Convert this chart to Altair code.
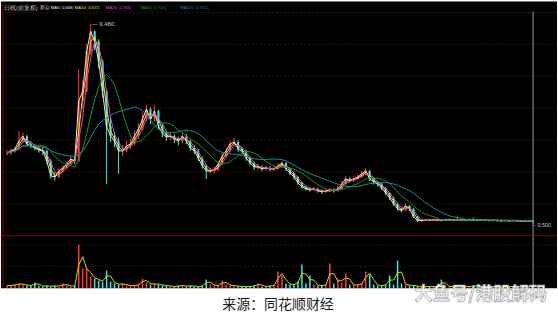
import altair as alt
import pandas as pd

# ---------------- data ----------------
closes = [
    3.70, 3.80, 3.88, 4.24, 4.46, 4.11, 4.02, 3.93, 3.84, 3.80,
    3.35, 2.68, 2.63, 2.90, 3.04, 3.21, 3.44, 3.35, 6.03, 6.47,
    8.26, 9.15, 8.71, 7.81, 6.47, 4.91, 4.46, 4.24, 3.80, 3.80,
    4.02, 4.11, 4.46, 4.78, 5.22, 5.67, 5.22, 5.58, 4.91, 4.60,
    4.42, 4.46, 4.33, 4.24, 4.46, 4.24, 3.93, 3.80, 3.48, 3.13,
    2.90, 2.90, 2.95, 3.21, 3.57, 3.80, 4.11, 4.20, 3.88, 3.80,
    3.48, 3.26, 3.08, 3.08, 2.99, 3.04, 2.99, 2.99, 3.13, 3.26,
    2.99, 2.81, 2.63, 2.37, 2.19, 2.10, 2.05, 2.10, 2.01, 1.96,
    2.01, 2.05, 2.01, 2.10, 2.32, 2.55, 2.46, 2.55, 2.63, 2.77,
    2.90, 2.55, 2.41, 2.32, 2.14, 1.92, 1.70, 1.43, 1.21, 1.12,
    1.34, 1.21, 0.85, 0.67, 0.68, 0.70, 0.69, 0.71, 0.70, 0.69,
    0.70, 0.72, 0.70, 0.71, 0.69, 0.70, 0.72, 0.70, 0.69, 0.70,
    0.69, 0.68, 0.69, 0.68, 0.67, 0.68, 0.67, 0.68, 0.67, 0.66,
    0.67, 0.67, 0.66,
]
highs = [
    3.86, 3.92, 4.00, 4.69, 4.62, 4.52, 4.22, 4.12, 4.02, 3.98,
    3.86, 3.42, 2.85, 3.02, 3.16, 3.34, 3.56, 3.55, 7.45, 6.95,
    8.60, 9.48, 9.20, 8.80, 7.90, 6.55, 5.30, 4.65, 4.40, 4.05,
    4.25, 4.35, 4.70, 5.05, 5.50, 5.85, 5.75, 5.85, 5.65, 5.00,
    4.70, 4.65, 4.55, 4.45, 4.62, 4.55, 4.30, 4.05, 3.88, 3.55,
    3.20, 3.05, 3.10, 3.35, 3.70, 3.95, 4.25, 4.38, 4.28, 3.98,
    3.85, 3.55, 3.30, 3.20, 3.15, 3.15, 3.12, 3.10, 3.25, 3.35,
    3.30, 3.05, 2.88, 2.68, 2.42, 2.25, 2.18, 2.20, 2.15, 2.08,
    2.10, 2.15, 2.12, 2.22, 2.45, 2.68, 2.62, 2.65, 2.75, 2.90,
    3.03, 2.95, 2.60, 2.45, 2.38, 2.18, 1.95, 1.75, 1.48, 1.25,
    1.45, 1.38, 1.25, 0.90, 0.74, 0.75, 0.74, 0.76, 0.75, 0.74,
    0.76, 0.78, 0.75, 0.90, 0.74, 0.75, 0.78, 0.82, 0.74, 0.75,
    0.74, 0.73, 0.74, 0.73, 0.72, 0.73, 0.72, 0.73, 0.72, 0.71,
    0.72, 0.72, 0.71,
]
lows = [
    3.58, 3.62, 3.72, 3.82, 4.15, 4.00, 3.92, 3.82, 3.72, 3.62,
    3.22, 2.55, 2.46, 2.58, 2.84, 2.98, 3.15, 3.22, 3.30, 5.70,
    6.40, 8.10, 8.30, 7.50, 6.20, 2.32, 4.20, 3.95, 2.77, 3.55,
    3.75, 3.90, 4.05, 4.35, 4.70, 5.15, 5.00, 5.10, 4.75, 4.40,
    4.25, 4.30, 4.15, 4.05, 4.15, 4.10, 3.80, 3.65, 3.35, 3.00,
    2.54, 2.78, 2.80, 2.90, 3.15, 3.50, 3.75, 4.00, 3.75, 3.65,
    3.35, 3.15, 2.95, 2.96, 2.88, 2.92, 2.88, 2.90, 2.95, 3.05,
    2.90, 2.72, 2.52, 2.28, 2.10, 2.02, 1.97, 2.00, 1.93, 1.88,
    1.90, 1.95, 1.93, 1.98, 2.05, 2.28, 2.38, 2.40, 2.50, 2.60,
    2.72, 2.45, 2.30, 2.20, 2.05, 1.82, 1.60, 1.35, 1.12, 1.05,
    1.10, 1.12, 0.80, 0.62, 0.63, 0.65, 0.64, 0.66, 0.65, 0.64,
    0.65, 0.66, 0.65, 0.66, 0.64, 0.65, 0.66, 0.65, 0.64, 0.65,
    0.64, 0.63, 0.64, 0.63, 0.62, 0.63, 0.62, 0.63, 0.62, 0.61,
    0.62, 0.62, 0.50,
]
volumes = [
    3, 3, 4, 5, 4, 3, 3, 6, 3, 2,
    3, 2, 3, 2, 5, 3, 2, 3, 44, 20,
    20, 12, 10, 8, 7, 18, 7, 5, 4, 5,
    3, 3, 3, 4, 10, 6, 4, 5, 4, 3,
    3, 2, 2, 3, 3, 2, 3, 2, 2, 3,
    9, 4, 3, 3, 8, 4, 3, 3, 2, 2,
    2, 2, 3, 5, 2, 2, 3, 3, 17, 13,
    5, 4, 4, 7, 24, 5, 13, 4, 3, 3,
    4, 25, 5, 10, 6, 15, 4, 3, 4, 5,
    17, 14, 4, 3, 3, 4, 13, 4, 28, 5,
    4, 3, 3, 2, 2, 2, 2, 2, 2, 9,
    2, 2, 2, 3, 2, 2, 2, 3, 2, 2,
    2, 2, 2, 2, 2, 2, 2, 2, 2, 2,
    2, 2, 3,
]

header_title = "日线(前复权)"
header_name = "新众"
ma_names = ["MA5", "MA10", "MA20", "MA60", "MA120"]
ma_values = ["0.668", "0.672", "0.706", "0.713", "0.722"]
high_label = "9.480"
low_label = "0.500"
caption = "来源：同花顺财经"
watermark = "大鱼号/港股解码"

# ---------------- layout / style ----------------
W = 558
PRICE_H = 235
VOL_H = 53
CAP_H = 28
PRICE_TOP = 10.49
VOL_TOP = 53
GRID = "#4a0c0c"
UP = "#ff3b3b"
DOWN = "#3cecec"
MA_COLORS = ["#e8e8e8", "#e8e800", "#e040e0", "#129a12", "#168e9e"]
MA_FRAMES = [[0, 0], [-1, 0], [-2, 0], [-7, 0], [-14, 0]]

N = len(closes)
df = pd.DataFrame({"i": list(range(N)), "close": closes, "high": highs,
                   "low": lows, "vol": volumes})

xs = alt.Scale(domain=[-1.5, 138], nice=False, zero=False)
ys = alt.Scale(domain=[0, PRICE_TOP], nice=False, zero=False)
vs = alt.Scale(domain=[0, VOL_TOP], nice=False, zero=False)
X = alt.X("i:Q", scale=xs, axis=None)
col = alt.Color("dir:N", scale=alt.Scale(domain=["up", "down"], range=[UP, DOWN]), legend=None)

srt = [alt.SortField("i")]
base = (alt.Chart(df)
        .transform_window(prev="lag(close)", sort=srt)
        .transform_calculate(open="datum.prev == null ? datum.close : datum.prev")
        .transform_calculate(dir="datum.close >= datum.open ? 'up' : 'down'"))
for k, fr in enumerate(MA_FRAMES):
    base = base.transform_window(**{f"ma{k}": "mean(close)"}, frame=fr, sort=srt)
base = base.transform_window(vma="mean(vol)", frame=[-1, 0], sort=srt)

grid_p = pd.DataFrame({"p": [10 * k / 7 for k in range(1, 8)]})
price_grid = alt.Chart(grid_p).mark_rule(color=GRID, strokeDash=[2, 2]).encode(
    y=alt.Y("p:Q", scale=ys, axis=None))

wicks = base.mark_rule(strokeWidth=1).encode(
    x=X, y=alt.Y("low:Q", scale=ys, axis=None), y2="high:Q", color=col)
bodies = base.mark_rule(strokeWidth=2).encode(
    x=X, y=alt.Y("open:Q", scale=ys, axis=None), y2="close:Q", color=col)

ma_layers = []
for k, c in enumerate(MA_COLORS):
    ma_layers.append(base.mark_line(color=c, strokeWidth=1).encode(
        x=X, y=alt.Y(f"ma{k}:Q", scale=ys, axis=None)))

last = pd.DataFrame({"i": [N - 1]})
cursor_p = alt.Chart(last).mark_rule(color="#9a9a9a").encode(
    x=X, y=alt.value(10), y2=alt.value(PRICE_H))

imax = max(range(N), key=lambda j: highs[j])
imin = min(range(N), key=lambda j: lows[j])
ann_hi = alt.Chart(pd.DataFrame({"i": [imax], "p": [highs[imax]], "t": ["— " + high_label]})
                   ).mark_text(align="left", baseline="middle", dx=1, fontSize=6,
                               color="#c8c8c8", font="Liberation Sans").encode(
    x=X, y=alt.Y("p:Q", scale=ys, axis=None), text="t:N")
ann_lo = alt.Chart(pd.DataFrame({"i": [imin], "p": [lows[imin]], "t": ["- " + low_label]})
                   ).mark_text(align="left", baseline="middle", dx=1, fontSize=5.5,
                               color="#c8c8c8", font="Liberation Sans").encode(
    x=X, y=alt.Y("p:Q", scale=ys, axis=None), text="t:N")

left_border = alt.Chart(last).mark_rule(color="#8a0000", strokeWidth=1).encode(
    x=alt.value(2), y=alt.value(0), y2=alt.value(PRICE_H))

hdr = []
def htext(txt, xpos, color, size=4.3):
    hdr.append(alt.Chart(last).mark_text(text=txt, align="left", baseline="middle",
                                         fontSize=size, color=color,
                                         font="Liberation Sans").encode(
        x=alt.value(xpos), y=alt.value(6)))

htext(header_title, 3, "#c8c8c8", 5.6)
htext(header_name, 39, "#c8c8c8", 4.6)
hx = [50, 74, 105, 140, 180]
hw = [21.5, 24, 24, 24, 26.5]
for k in range(5):
    htext(f"{ma_names[k]}: {ma_values[k]}", hx[k], MA_COLORS[k] if k else "#e8e8e8")
    htext("↓", hx[k] + hw[k], "#37a8ff", 5)

price = alt.layer(price_grid, left_border, wicks, bodies, *ma_layers, cursor_p,
                  ann_hi, ann_lo, *hdr).properties(
    width=W, height=PRICE_H, view=alt.ViewBackground(fill="black", strokeWidth=0))

# ---------------- volume panel ----------------
grid_v = pd.DataFrame({"v": [22, 44]})
vol_grid = alt.Chart(grid_v).mark_rule(color=GRID, strokeDash=[2, 2]).encode(
    y=alt.Y("v:Q", scale=vs, axis=None))
vol_top = alt.Chart(pd.DataFrame({"v": [VOL_TOP]})).mark_rule(color="#780000").encode(
    y=alt.Y("v:Q", scale=vs, axis=None))
vbars = base.mark_rule(strokeWidth=1.5).encode(
    x=X, y=alt.Y("vol:Q", scale=vs, axis=None), y2=alt.datum(0), color=col)
vma = base.mark_line(color="#d8d800", strokeWidth=1).encode(
    x=X, y=alt.Y("vma:Q", scale=vs, axis=None))
cursor_v = alt.Chart(last).mark_rule(color="#9a9a9a").encode(
    x=X, y=alt.value(0), y2=alt.value(VOL_H))
left_v = alt.Chart(last).mark_rule(color="#8a0000").encode(
    x=alt.value(2), y=alt.value(0), y2=alt.value(VOL_H))

volume = alt.layer(vol_grid, vol_top, left_v, vbars, vma, cursor_v).properties(
    width=W, height=VOL_H, view=alt.ViewBackground(fill="black", strokeWidth=0))

# ---------------- caption strip ----------------
cap = alt.Chart(last).mark_text(text=caption, align="center", baseline="middle",
                                fontSize=14, color="#1a1a1a",
                                font="Noto Sans CJK SC").encode(
    x=alt.value(278), y=alt.value(17))
wm = alt.Chart(last).mark_text(text=watermark, align="left", baseline="middle",
                               fontSize=18, fontWeight="bold", fill="#ffffff",
                               stroke="#9a9a9a", strokeWidth=0.7,
                               font="Noto Sans CJK SC").encode(
    x=alt.value(415), y=alt.value(7))
capchart = alt.layer(cap, wm).properties(
    width=W, height=CAP_H, view=alt.ViewBackground(fill="white", strokeWidth=0))

chart = alt.vconcat(price, volume, capchart, spacing=0, bounds="flush").properties(
    padding=0, background="white").configure_view(strokeWidth=0)

chart.save("out.html", embed_options={"renderer": "svg", "actions": False})
